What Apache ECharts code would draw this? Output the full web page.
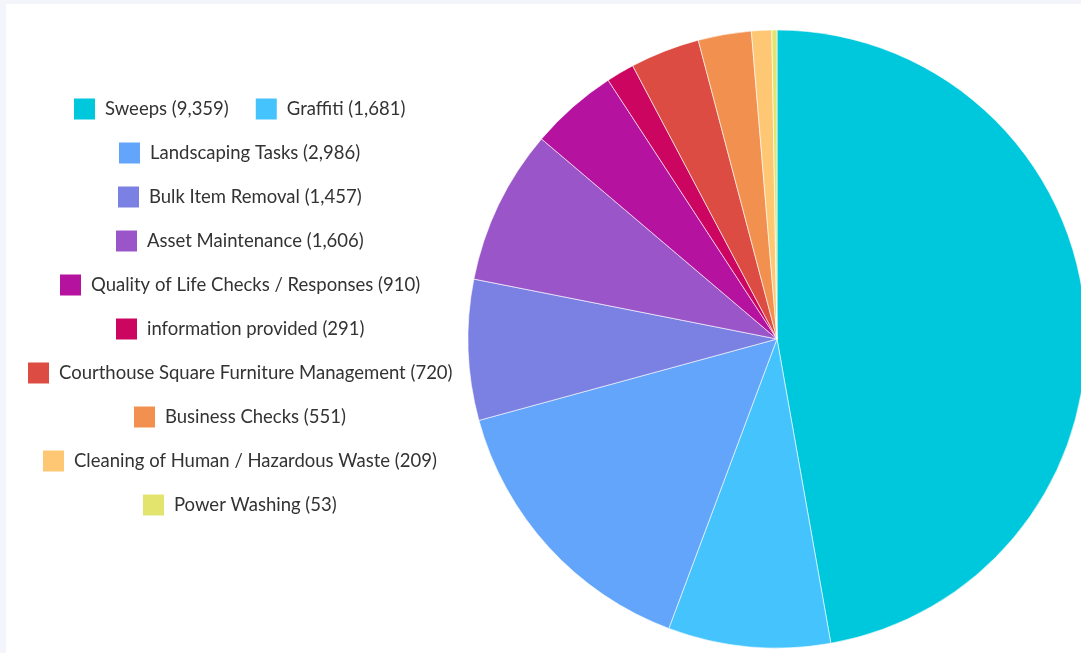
<!DOCTYPE html>
<html>
<head>
<meta charset="utf-8">
<script src="https://cdn.jsdelivr.net/npm/echarts@6/dist/echarts.min.js"></script>
<style>
  html, body { margin: 0; padding: 0; background: #f3f5fa; overflow: hidden; }
  #chart { position: absolute; left: 6px; top: 4px; width: 1075px; height: 649px; background: #ffffff; }
</style>
</head>
<body>
<div id="chart"></div>
<script>
const categories = [
  'Sweeps', 'Graffiti', 'Landscaping Tasks', 'Bulk Item Removal', 'Asset Maintenance',
  'Quality of Life Checks / Responses', 'information provided',
  'Courthouse Square Furniture Management', 'Business Checks',
  'Cleaning of Human / Hazardous Waste', 'Power Washing'
];
const values = [9359, 1681, 2986, 1457, 1606, 910, 291, 720, 551, 209, 53];
const colors = ['#00c8dc', '#45c3fd', '#62a5fa', '#7b80e3', '#9a56c9', '#b5129f', '#cc0561', '#dc4c42', '#f2914f', '#fec774', '#e2e46e'];
const legendRows = [
  ['Sweeps', 'Graffiti'],
  ['Landscaping Tasks'], ['Bulk Item Removal'], ['Asset Maintenance'],
  ['Quality of Life Checks / Responses'], ['information provided'],
  ['Courthouse Square Furniture Management'], ['Business Checks'],
  ['Cleaning of Human / Hazardous Waste'], ['Power Washing']
];

const fmt = n => n.toLocaleString('en-US');
const labelOf = name => name + ' (' + fmt(values[categories.indexOf(name)]) + ')';

const FONT_SIZE = 18.5, FONT = 'Lato', ICON = 21, TEXT_PAD = 5, ITEM_GAP = 27;
const ctx = document.createElement('canvas').getContext('2d');
ctx.font = FONT_SIZE + 'px ' + FONT;
const legendCenterX = 234, firstRowY = 105, rowStep = 44;

const legends = legendRows.map((row, i) => {
  let w = 0;
  row.forEach((n, j) => {
    w += ICON + 5 + TEXT_PAD + ctx.measureText(labelOf(n)).width;
    if (j > 0) w += ITEM_GAP;
  });
  return {
    data: row,
    left: Math.round(legendCenterX - w / 2),
    top: firstRowY + i * rowStep - ICON / 2,
    orient: 'horizontal',
    itemWidth: ICON, itemHeight: ICON, itemGap: ITEM_GAP,
    icon: 'rect',
    selectedMode: false,
    padding: 0,
    itemStyle: { borderWidth: 0 },
    formatter: labelOf,
    textStyle: { fontFamily: FONT, fontSize: FONT_SIZE, color: '#333', padding: [0, 0, 0, TEXT_PAD] }
  };
});

const chart = echarts.init(document.getElementById('chart'));
chart.setOption({
  animation: false,
  color: colors,
  legend: legends,
  series: [{
    type: 'pie',
    center: [771, 335],
    radius: [0, 309],
    startAngle: 90,
    clockwise: true,
    label: { show: false },
    labelLine: { show: false },
    silent: true,
    itemStyle: { borderColor: '#ffffff', borderWidth: 0.6 },
    data: categories.map((c, i) => ({ name: c, value: values[i] }))
  }]
});
</script>
</body>
</html>
